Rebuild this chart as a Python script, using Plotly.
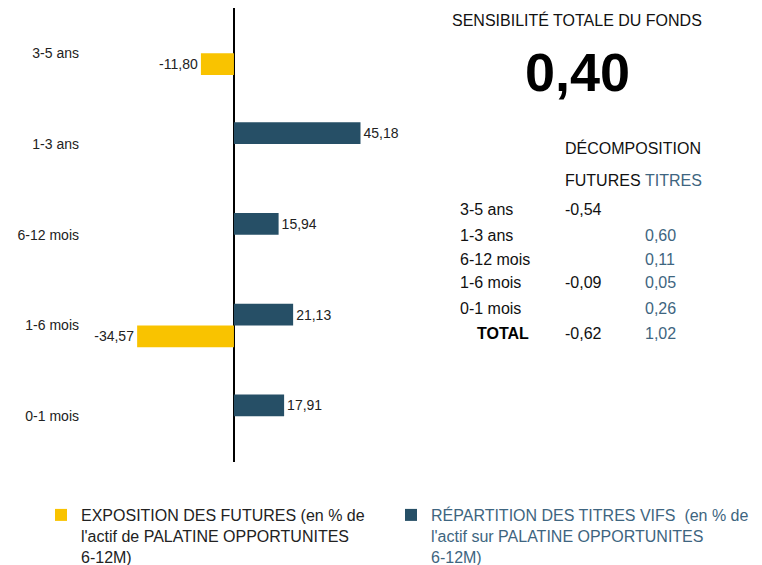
import plotly.graph_objects as go

# ---------------- data ----------------
categories = ["3-5 ans", "1-3 ans", "6-12 mois", "1-6 mois", "0-1 mois"]
futures_pct = [-11.80, None, None, -34.57, None]
titres_pct = [None, 45.18, 15.94, 21.13, 17.91]

sens_futures = [-0.54, None, None, -0.09, None]
sens_titres = [None, 0.60, 0.11, 0.05, 0.26]
total_futures = -0.62
total_titres = 1.02
sensibilite_totale = 0.40

legend_futures = "EXPOSITION DES FUTURES (en % de<br>l'actif de PALATINE OPPORTUNITES<br>6-12M)"
legend_titres = "RÉPARTITION DES TITRES VIFS  (en % de<br>l'actif sur PALATINE OPPORTUNITES<br>6-12M)"

# ---------------- style ----------------
OFF = 8                      # default body margin of the page
W, H = 762 - OFF, 565 - OFF
FONT = "Liberation Sans, Arial, sans-serif"
YELLOW = "#F9C300"
BLUE = "#264F66"
TXT_BLUE = "#3E6580"
TXT = "#222222"


def fr(v):
    return "" if v is None else f"{v:.2f}".replace(".", ",")


def px(x):
    return (x - OFF) / W


def py(y):
    return 1 - (y - OFF) / H


fig = go.Figure()
fig.add_trace(go.Bar(
    y=categories, x=titres_pct, orientation="h", name=legend_titres,
    marker=dict(color=BLUE, line=dict(width=0)),
    texttemplate="%{x:.2f}", textposition="outside", cliponaxis=False,
    textfont=dict(size=14, color=TXT, family=FONT), constraintext="none",
    legend="legend2",
))
fig.add_trace(go.Bar(
    y=categories, x=futures_pct, orientation="h", name=legend_futures,
    marker=dict(color=YELLOW, line=dict(width=0)),
    texttemplate="%{x:.2f}", textposition="outside", cliponaxis=False,
    textfont=dict(size=14, color=TXT, family=FONT), constraintext="none",
    legend="legend",
))

ann = []
ann.append(dict(x=px(577), y=py(20), text="SENSIBILITÉ TOTALE DU FONDS", xanchor="center", yanchor="middle",
                font=dict(size=16, color="#111", family=FONT)))
ann.append(dict(x=px(577), y=py(72), text="<b>" + fr(sensibilite_totale) + "</b>", xanchor="center", yanchor="middle",
                font=dict(size=54, color="#000", family=FONT)))
ann.append(dict(x=px(563), y=py(148), text="DÉCOMPOSITION", xanchor="left", yanchor="middle",
                font=dict(size=16, color="#111", family=FONT)))
ann.append(dict(x=px(563), y=py(180), text="FUTURES", xanchor="left", yanchor="middle",
                font=dict(size=16, color="#111", family=FONT)))
ann.append(dict(x=px(643), y=py(180), text="TITRES", xanchor="left", yanchor="middle",
                font=dict(size=16, color=TXT_BLUE, family=FONT)))
row_y = [210, 235, 259, 283, 308]
for cat, f, t, yy in zip(categories, sens_futures, sens_titres, row_y):
    ann.append(dict(x=px(458), y=py(yy), text=cat, xanchor="left", yanchor="middle",
                    font=dict(size=16, color="#111", family=FONT)))
    if f is not None:
        ann.append(dict(x=px(563), y=py(yy), text=fr(f), xanchor="left", yanchor="middle",
                        font=dict(size=16, color="#111", family=FONT)))
    if t is not None:
        ann.append(dict(x=px(643), y=py(yy), text=fr(t), xanchor="left", yanchor="middle",
                        font=dict(size=16, color=TXT_BLUE, family=FONT)))
ann.append(dict(x=px(475), y=py(333), text="<b>TOTAL</b>", xanchor="left", yanchor="middle",
                font=dict(size=16, color="#000", family=FONT)))
ann.append(dict(x=px(563), y=py(333), text=fr(total_futures), xanchor="left", yanchor="middle",
                font=dict(size=16, color="#111", family=FONT)))
ann.append(dict(x=px(643), y=py(333), text=fr(total_titres), xanchor="left", yanchor="middle",
                font=dict(size=16, color=TXT_BLUE, family=FONT)))
for a in ann:
    a.update(xref="paper", yref="paper", showarrow=False)

fig.update_layout(
    width=W, height=H,
    margin=dict(l=0, r=0, t=0, b=0, autoexpand=False),
    paper_bgcolor="white", plot_bgcolor="white",
    font=dict(family=FONT, color=TXT),
    separators=", ",
    barmode="group", bargap=0.52, bargroupgap=0,
    xaxis=dict(domain=[px(90), px(430)], range=[-51.4, 70], showticklabels=False, showgrid=False,
               zeroline=True, zerolinecolor="#000", zerolinewidth=2, showline=False, fixedrange=True),
    yaxis=dict(domain=[py(461.5), min(1, py(6.5))], type="category", categoryorder="array",
               categoryarray=categories, autorange="reversed", showgrid=False, zeroline=False,
               showline=False, ticks="", tickfont=dict(size=14, color=TXT, family=FONT),
               ticklabelstandoff=10),
    showlegend=True,
    legend=dict(orientation="v", x=px(41), y=py(498), xanchor="left", yanchor="top",
                font=dict(size=16, color=TXT, family=FONT), valign="top",
                bgcolor="rgba(0,0,0,0)"),
    legend2=dict(orientation="v", x=px(391), y=py(498), xanchor="left", yanchor="top",
                 font=dict(size=16, color=TXT_BLUE, family=FONT), valign="top",
                 bgcolor="rgba(0,0,0,0)"),
    annotations=ann,
)

fig.write_html("out.html")
